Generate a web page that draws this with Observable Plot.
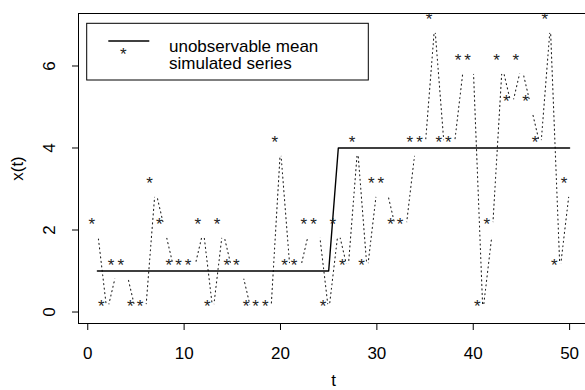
<!DOCTYPE html>
<html><head><meta charset="utf-8">
<script src="https://cdn.jsdelivr.net/npm/d3@7"></script>
<script src="https://cdn.jsdelivr.net/npm/@observablehq/plot@0.6"></script>
<style>body{margin:0;background:#fff} svg{display:block}</style>
</head><body><div id="chart"></div>
<script>
const times = [1,2,3,4,5,6,7,8,9,10,11,12,13,14,15,16,17,18,19,20,21,22,23,24,25,26,27,28,29,30,31,32,33,34,35,36,37,38,39,40,41,42,43,44,45,46,47,48,49,50];
const values = [2,0,1,1,0,0,3,2,1,1, 1,2,0,2,1,1,0,0,0,4, 1,1,2,2,0,2,1,4,1,3, 3,2,2,4,4,7,4,4,6,6, 0,2,6,5,6,5,4,7,1,3];
const meanT = [1,25,26,50];
const meanV = [1,1,4,4];
const xTicks = [0,10,20,30,40,50];
const yTicks = [0,2,4,6];
const legendLabels = ["unobservable mean", "simulated series"];

const series = times.map((t,i)=>({t, v: values[i]}));
const mean = meanT.map((t,i)=>({t, v: meanV[i]}));
const FONT = "'Liberation Sans', Arial, Helvetica, sans-serif";

const chart = Plot.plot({
  width: 585, height: 390,
  marginLeft: 78, marginRight: -3, marginTop: 13, marginBottom: 67,
  style: {fontFamily: FONT, fontSize: "17px", background: "white", color: "black"},
  x: {domain: [-0.96, 51.96]},
  y: {domain: [-0.28, 7.28]},
  marks: [
    Plot.line(series, {x:"t", y:"v", stroke:"#222", strokeWidth:1.1, strokeDasharray:"1.1,3.4"}),
    Plot.dot(series, {x:"t", y:"v", r:8, fill:"white", stroke:"none"}),
    Plot.line(mean, {x:"t", y:"v", stroke:"black", strokeWidth:1.4}),
    Plot.text(series, {x:"t", y:"v", text: () => "*", fontSize:17, dx:-5.6, lineAnchor:"bottom", fill:"#222"}),
    Plot.frame({stroke:"black"}),
    Plot.axisX({ticks: xTicks, tickSize: 7, tickPadding: 16, label: "t", labelAnchor:"center", labelArrow:"none", labelOffset: 62}),
    Plot.axisY({ticks: yTicks, tickSize: 6, tickFormat: () => "", label:"x(t)", labelAnchor:"center", labelArrow:"none", labelOffset: 68}),
    Plot.text(yTicks, {y: d => d, frameAnchor: "left", text: d => String(d), rotate: -90, dx: -29, textAnchor: "middle", lineAnchor: "middle", fontSize: 17, fill: "black"})
  ]
});
document.getElementById("chart").appendChild(chart);

// legend (inside the plot, top-left)
const svg = d3.select(chart);
const lg = svg.append("g").attr("font-family", FONT).attr("font-size", 17).attr("text-anchor", "start");
lg.append("rect").attr("x", 86.7).attr("y", 23.3).attr("width", 281.6).attr("height", 56.7)
  .attr("fill", "white").attr("stroke", "black");
lg.append("line").attr("x1", 108.3).attr("x2", 149.3).attr("y1", 41).attr("y2", 41)
  .attr("stroke", "black").attr("stroke-width", 1.4);
lg.append("text").attr("x", 128.9 - 5.6).attr("y", 60.4).attr("text-anchor", "middle")
  .attr("fill", "#222").text("*");
lg.selectAll("text.lab").data(legendLabels).join("text").attr("class","lab")
  .attr("x", 169).attr("y", (d,i) => 51.7 + i*17.3).attr("text-anchor", "start").text(d => d);
</script>
</body></html>
